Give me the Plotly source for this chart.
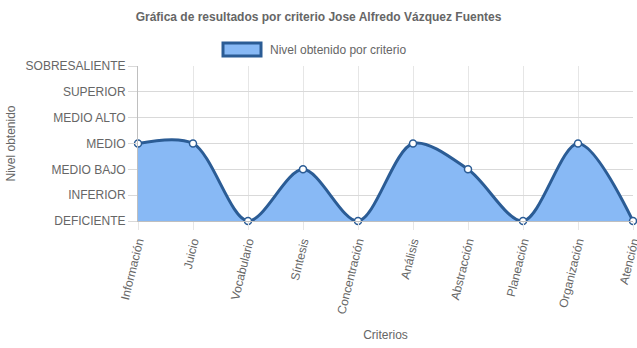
import plotly.graph_objects as go

# Criterios evaluados y nivel obtenido (0 = DEFICIENTE ... 6 = SOBRESALIENTE)
criterios = ["Información", "Juicio", "Vocabulario", "Síntesis", "Concentración",
             "Análisis", "Abstracción", "Planeación", "Organización", "Atención"]
niveles = [3, 3, 0, 2, 0, 3, 2, 0, 3, 0]
etiquetas_nivel = ["DEFICIENTE", "INFERIOR", "MEDIO BAJO", "MEDIO",
                   "MEDIO ALTO", "SUPERIOR", "SOBRESALIENTE"]

FILL = "#88b9f5"
LINE = "#2b5c95"
GRAY = "#666666"
GRID = "#e6e6e6"
FONT = "Liberation Sans, Arial, sans-serif"

W, H = 637, 348
L, R, T, B = 138, 4, 66, 127

fig = go.Figure()
fig.add_trace(go.Scatter(
    x=criterios, y=niveles,
    mode="lines+markers",
    line=dict(color=LINE, width=3, shape="spline", smoothing=0.9),
    marker=dict(size=7, color="white", line=dict(color=LINE, width=1.5)),
    fill="tozeroy", fillcolor=FILL,
    cliponaxis=False, showlegend=False,
    name="Nivel obtenido por criterio",
))

# legend box drawn in paper coordinates
pw, ph = W - L - R, H - T - B
def px(x):
    return (x - L) / pw
def py(y):
    return (H - B - y) / ph

fig.add_shape(type="rect", xref="paper", yref="paper",
              x0=px(223), x1=px(261), y0=py(56), y1=py(43),
              fillcolor=FILL, line=dict(color=LINE, width=3))
fig.add_annotation(xref="paper", yref="paper", x=px(268), y=py(49.5),
                   text="Nivel obtenido por criterio", showarrow=False,
                   xanchor="left", yanchor="middle",
                   font=dict(family=FONT, size=12, color=GRAY))

fig.update_layout(
    width=W, height=H,
    margin=dict(l=L, r=R, t=T, b=B, pad=0, autoexpand=False),
    paper_bgcolor="white", plot_bgcolor="white",
    font=dict(family=FONT, size=12, color=GRAY),
    title=dict(text="<b>Gráfica de resultados por criterio Jose Alfredo Vázquez Fuentes</b>",
               x=0.5, xref="container", xanchor="center",
               y=1 - 17 / H, yref="container", yanchor="middle",
               font=dict(family=FONT, size=12, color=GRAY)),
)
fig.update_xaxes(
    type="category", range=[0, len(criterios) - 1], automargin=False,
    showgrid=True, gridcolor=GRID, gridwidth=1,
    showline=True, linecolor="#bfbfbf", linewidth=1,
    ticks="outside", ticklen=8, tickcolor=GRID,
    tickangle=-76, tickfont=dict(size=12, color=GRAY),
    title=dict(text="Criterios", standoff=15, font=dict(size=12, color=GRAY)),
    zeroline=False,
)
fig.update_yaxes(
    range=[0, 6], tickvals=list(range(len(etiquetas_nivel))), ticktext=etiquetas_nivel,
    automargin=False,
    showgrid=True, gridcolor="#d9d9d9", gridwidth=1,
    showline=True, linecolor="#bfbfbf", linewidth=1,
    ticks="outside", ticklen=9, tickcolor="#d9d9d9",
    tickfont=dict(size=12, color=GRAY),
    title=dict(text="Nivel obtenido", standoff=7, font=dict(size=12, color=GRAY)),
    zeroline=False,
)

fig.write_html("out.html")
